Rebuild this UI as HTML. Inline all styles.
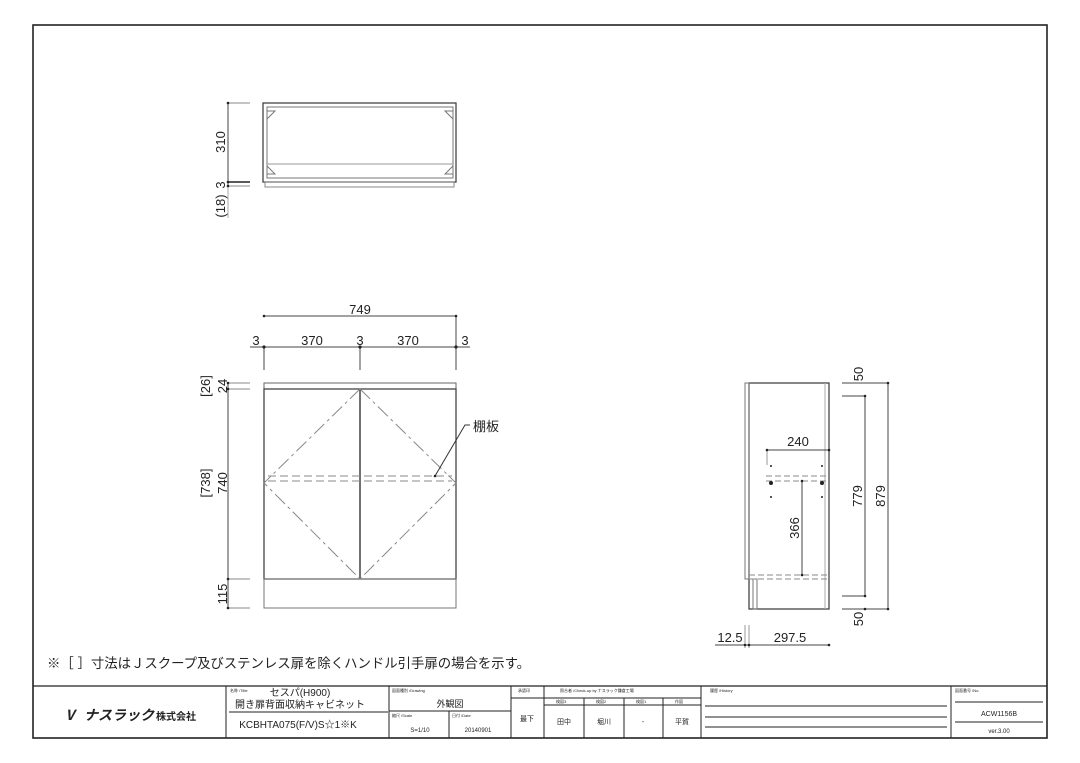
<!DOCTYPE html>
<html><head><meta charset="utf-8"><style>
html,body{margin:0;padding:0;background:#fff;}
svg{display:block;}
text{font-family:"Liberation Sans","Noto Sans CJK JP",sans-serif;fill:#222;}
</style></head><body>
<svg width="1080" height="763" viewBox="0 0 1080 763" xmlns="http://www.w3.org/2000/svg">
<rect x="0" y="0" width="1080" height="763" fill="#fff"/>
<!-- frame -->
<rect x="33" y="25" width="1014" height="713" fill="none" stroke="#222" stroke-width="1.6"/>

<!-- TOP VIEW -->
<g stroke="#444" fill="none" stroke-width="1">
<rect x="263" y="103" width="193" height="79" stroke-width="1.3"/>
<rect x="267" y="107" width="186" height="71" stroke="#777"/>
<line x1="267" y1="164" x2="453" y2="164" stroke="#999"/>
<rect x="265" y="182" width="189" height="5" stroke="#888"/>
<path d="M267 111 L275 111 L267 119 Z M453 111 L445 111 L453 119 Z M267 174 L275 174 L267 166 Z M453 174 L445 174 L453 166 Z" stroke="#777"/>
<line x1="228" y1="103" x2="228" y2="186"/>
<line x1="228" y1="103" x2="250" y2="103" stroke="#888"/>
<line x1="228" y1="182" x2="250" y2="182" stroke="#222" stroke-width="1.5"/>
<line x1="228" y1="186" x2="250" y2="186" stroke="#888"/>
<line x1="228" y1="186" x2="228" y2="218" stroke="#aaa"/>
</g>
<g fill="#222"><circle cx="228" cy="103" r="1.3"/><circle cx="228" cy="182" r="1.3"/><circle cx="228" cy="186" r="1.3"/></g>
<text transform="translate(225,142) rotate(-90)" font-size="13" text-anchor="middle">310</text>
<text transform="translate(225,185) rotate(-90)" font-size="13" text-anchor="middle">3</text>
<text transform="translate(225,206) rotate(-90)" font-size="13" text-anchor="middle">(18)</text>

<!-- FRONT VIEW -->
<g stroke="#444" fill="none" stroke-width="1">
<rect x="264" y="383" width="192" height="6" stroke="#666"/>
<rect x="264" y="389" width="192" height="190" stroke-width="1.3"/>
<line x1="360" y1="389" x2="360" y2="579" stroke-width="1.5"/>
<rect x="264" y="579" width="192" height="29" stroke="#777"/>
<g stroke="#888" stroke-dasharray="14,4,3,4">
<path d="M360 389 L264 483 L360 579 M360 389 L456 483 L360 579"/>
</g>
<g stroke="#888" stroke-dasharray="8,4">
<line x1="268" y1="476" x2="452" y2="476"/>
<line x1="268" y1="481" x2="452" y2="481"/>
</g>
<polyline points="435,476 465,425 470,425" stroke="#333"/>
<!-- dims -->
<line x1="264" y1="316" x2="456" y2="316"/>
<line x1="250" y1="347" x2="470" y2="347"/>
<line x1="264" y1="347" x2="264" y2="370"/>
<line x1="360" y1="347" x2="360" y2="370"/>
<line x1="456" y1="316" x2="456" y2="370"/>
<line x1="228" y1="383" x2="228" y2="608"/>
<line x1="228" y1="383" x2="250" y2="383" stroke="#888"/>
<line x1="228" y1="389" x2="250" y2="389" stroke="#888"/>
<line x1="228" y1="579" x2="250" y2="579" stroke="#888"/>
<line x1="228" y1="608" x2="250" y2="608" stroke="#888"/>
</g>
<g fill="#222">
<circle cx="264" cy="316" r="1.3"/><circle cx="456" cy="316" r="1.3"/>
<circle cx="264" cy="347" r="1.6"/><circle cx="360" cy="347" r="1.6"/><circle cx="456" cy="347" r="1.6"/>
<circle cx="228" cy="383" r="1.3"/><circle cx="228" cy="389" r="1.3"/><circle cx="228" cy="579" r="1.3"/><circle cx="228" cy="608" r="1.3"/>
<circle cx="435" cy="476" r="1.3"/>
</g>
<text x="360" y="314" font-size="13" text-anchor="middle">749</text>
<text x="256" y="345" font-size="13" text-anchor="middle">3</text>
<text x="312" y="345" font-size="13" text-anchor="middle">370</text>
<text x="360" y="345" font-size="13" text-anchor="middle">3</text>
<text x="408" y="345" font-size="13" text-anchor="middle">370</text>
<text x="465" y="345" font-size="13" text-anchor="middle">3</text>
<text x="473" y="431" font-size="13">棚板</text>
<text transform="translate(210,386) rotate(-90)" font-size="13" text-anchor="middle">[26]</text>
<text transform="translate(227,386) rotate(-90)" font-size="13" text-anchor="middle">24</text>
<text transform="translate(210,483) rotate(-90)" font-size="13" text-anchor="middle">[738]</text>
<text transform="translate(227,483) rotate(-90)" font-size="13" text-anchor="middle">740</text>
<text transform="translate(227,594) rotate(-90)" font-size="13" text-anchor="middle">115</text>

<!-- SIDE VIEW -->
<g stroke="#444" fill="none" stroke-width="1">
<rect x="749" y="383" width="80" height="226" stroke-width="1.3"/>
<rect x="745" y="383" width="4" height="196" stroke="#777"/>
<rect x="753" y="579" width="4" height="30" stroke="#777"/>
<line x1="825" y1="383" x2="825" y2="609" stroke="#aaa"/>
<g stroke="#888" stroke-dasharray="6,3">
<line x1="766" y1="476" x2="829" y2="476"/>
<line x1="766" y1="481" x2="829" y2="481"/>
<line x1="749" y1="575" x2="829" y2="575"/>
<line x1="749" y1="579" x2="829" y2="579"/>
</g>
<line x1="767" y1="450" x2="829" y2="450"/>
<line x1="767" y1="450" x2="767" y2="465" stroke="#999"/>
<line x1="802" y1="481" x2="802" y2="575"/>
<line x1="865" y1="396" x2="865" y2="596"/>
<line x1="842" y1="383" x2="888" y2="383"/>
<line x1="842" y1="396" x2="865" y2="396"/>
<line x1="842" y1="596" x2="865" y2="596"/>
<line x1="842" y1="609" x2="888" y2="609"/>
<line x1="888" y1="383" x2="888" y2="609"/>
<line x1="715" y1="645" x2="829" y2="645"/>
<line x1="745" y1="625" x2="745" y2="648" stroke="#999"/>
<line x1="749" y1="625" x2="749" y2="648" stroke="#999"/>
</g>
<g fill="#222">
<circle cx="767" cy="450" r="1.3"/><circle cx="829" cy="450" r="1.3"/>
<circle cx="802" cy="481" r="1.3"/><circle cx="802" cy="575" r="1.3"/>
<circle cx="865" cy="396" r="1.3"/><circle cx="865" cy="596" r="1.3"/><circle cx="865" cy="609" r="1.3"/>
<circle cx="888" cy="383" r="1.3"/><circle cx="888" cy="609" r="1.3"/>
<circle cx="745" cy="645" r="1.3"/><circle cx="749" cy="645" r="1.3"/><circle cx="829" cy="645" r="1.3"/>
<circle cx="771" cy="466" r="1"/><circle cx="822" cy="466" r="1"/><circle cx="771" cy="497" r="1"/><circle cx="822" cy="497" r="1"/>
<circle cx="771" cy="483" r="2"/><circle cx="822" cy="483" r="2"/>
</g>
<text x="798" y="446" font-size="13" text-anchor="middle">240</text>
<text transform="translate(799,528) rotate(-90)" font-size="13" text-anchor="middle">366</text>
<text transform="translate(862,496) rotate(-90)" font-size="13" text-anchor="middle">779</text>
<text transform="translate(885,496) rotate(-90)" font-size="13" text-anchor="middle">879</text>
<text transform="translate(863,374) rotate(-90)" font-size="13" text-anchor="middle">50</text>
<text transform="translate(863,619) rotate(-90)" font-size="13" text-anchor="middle">50</text>
<text x="730" y="642" font-size="13" text-anchor="middle">12.5</text>
<text x="790" y="642" font-size="13" text-anchor="middle">297.5</text>

<!-- note -->
<text x="47" y="668" font-size="13.4" textLength="483">※［ ］寸法はＪスクープ及びステンレス扉を除くハンドル引手扉の場合を示す。</text>

<!-- TITLE BLOCK -->
<g stroke="#222" fill="none" stroke-width="1">
<line x1="33" y1="686" x2="1047" y2="686" stroke-width="1.3"/>
<line x1="226" y1="686" x2="226" y2="738"/>
<line x1="389" y1="686" x2="389" y2="738"/>
<line x1="511" y1="686" x2="511" y2="738"/>
<line x1="544" y1="686" x2="544" y2="738"/>
<line x1="701" y1="686" x2="701" y2="738"/>
<line x1="951" y1="686" x2="951" y2="738"/>
<line x1="229" y1="712" x2="388" y2="712"/>
<line x1="389" y1="711" x2="511" y2="711"/>
<line x1="449" y1="711" x2="449" y2="738"/>
<line x1="511" y1="698" x2="544" y2="698"/>
<line x1="544" y1="698" x2="701" y2="698"/>
<line x1="544" y1="705" x2="701" y2="705"/>
<line x1="584" y1="698" x2="584" y2="738"/>
<line x1="624" y1="698" x2="624" y2="738"/>
<line x1="663" y1="698" x2="663" y2="738"/>
<line x1="705" y1="706" x2="947" y2="706"/>
<line x1="705" y1="717" x2="947" y2="717"/>
<line x1="705" y1="727" x2="947" y2="727"/>
<line x1="955" y1="702" x2="1043" y2="702"/>
<line x1="955" y1="722" x2="1043" y2="722"/>
</g>
<text x="63" y="720" font-size="14" font-weight="bold" font-style="italic" fill="#111">Ⅴ</text>
<text x="84" y="720" font-size="14" font-weight="bold" font-style="italic">ナスラック</text>
<text x="156" y="720" font-size="10" font-weight="bold">株式会社</text>
<g font-size="4" fill="#555">
<text x="230" y="692">名称 /Title</text>
<text x="392" y="692">図面種別 /Drawing</text>
<text x="392" y="717">縮尺 /Scale</text>
<text x="452" y="717">日付 /Date</text>
<text x="518" y="692">承認印</text>
<text x="560" y="692">照合者 /Check-up by ナスラック鎌倉工場</text>
<text x="556" y="703">検図3</text><text x="596" y="703">検図2</text><text x="636" y="703">検図1</text><text x="675" y="703">作図</text>
<text x="710" y="692">履歴 /History</text>
<text x="955" y="692">図面番号 /No.</text>
</g>
<text x="300" y="696" font-size="10" text-anchor="middle">セスパ(H900)</text>
<text x="300" y="708" font-size="10" text-anchor="middle">開き扉背面収納キャビネット</text>
<text x="298" y="728" font-size="10" text-anchor="middle">KCBHTA075(F/V)S☆1※K</text>
<text x="450" y="707" font-size="9" text-anchor="middle">外観図</text>
<text x="420" y="732" font-size="6" text-anchor="middle">S=1/10</text>
<text x="478" y="732" font-size="6" text-anchor="middle">20140901</text>
<text x="527" y="721" font-size="7" text-anchor="middle">最下</text>
<text x="564" y="724" font-size="7" text-anchor="middle">田中</text>
<text x="604" y="724" font-size="7" text-anchor="middle">堀川</text>
<text x="643" y="724" font-size="7" text-anchor="middle">-</text>
<text x="682" y="724" font-size="7" text-anchor="middle">平賀</text>
<text x="999" y="716" font-size="7" text-anchor="middle">ACW1156B</text>
<text x="999" y="733" font-size="6" text-anchor="middle">ver.3.00</text>
</svg>
</body></html>
